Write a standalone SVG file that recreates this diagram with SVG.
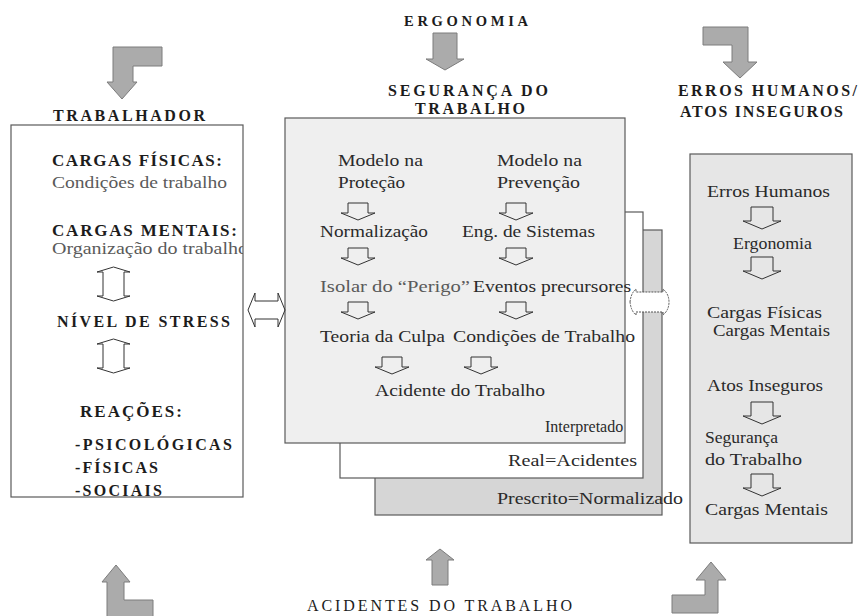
<svg xmlns="http://www.w3.org/2000/svg" width="862" height="616" viewBox="0 0 862 616">
<style>
.h{font-family:"Liberation Serif","Times New Roman",serif;font-weight:bold;fill:#1c1c1c}
.hl{font-family:"Liberation Serif","Times New Roman",serif;fill:#1c1c1c}
.t{font-family:"Liberation Serif","Times New Roman",serif;font-size:16px;fill:#2a2a2a}
.lt{fill:#5a5a5a}
.box{stroke:#5a5a5a;stroke-width:1.2}
.big{fill:#ababab;stroke:#7c7c7c;stroke-width:1}
.hol{fill:none;stroke:#333;stroke-width:1}
.dbl{fill:#fff;stroke:#555;stroke-width:1;stroke-dasharray:2 1}
</style>
<defs>
<path id="darr" d="M-10,0 H10 V10 H17 L0,17 L-17,10 H-10 Z"/>
<path id="darr2" d="M-11,0 H11 V14 H19 L0,22 L-19,14 H-11 Z"/>
<path id="udarr" d="M0,0 L16.5,5 H10.5 V29 H16.5 L0,34 L-16.5,29 H-10.5 V5 H-16.5 Z"/>
<clipPath id="clipL"><rect x="11" y="125" width="232" height="372"/></clipPath>
</defs>

<g id="ergonomia">
<text class="h" font-size="14.5" x="404" y="26" textLength="124" lengthAdjust="spacing">ERGONOMIA</text>
</g>

<g id="trabalhador">
<text class="h" font-size="16" x="53" y="121" textLength="152" lengthAdjust="spacing">TRABALHADOR</text>
<rect class="box" x="11" y="125" width="232" height="372" fill="#fff"/>
<g clip-path="url(#clipL)">
<text class="h" font-size="17" x="52" y="166" textLength="170" lengthAdjust="spacing">CARGAS FÍSICAS:</text>
<text class="t lt" x="52" y="188" textLength="175" lengthAdjust="spacingAndGlyphs">Condições de trabalho</text>
<text class="h" font-size="17" x="52" y="236" textLength="185" lengthAdjust="spacing">CARGAS MENTAIS:</text>
<text class="t lt" x="52" y="254" textLength="196" lengthAdjust="spacingAndGlyphs">Organização do trabalho</text>
<use href="#udarr" x="113.5" y="267" class="hol"/>
<text class="h" font-size="16" x="57" y="327" textLength="173" lengthAdjust="spacing">NÍVEL DE STRESS</text>
<use href="#udarr" x="113.5" y="339" class="hol"/>
<text class="h" font-size="17" x="80" y="417" textLength="102" lengthAdjust="spacing">REAÇÕES:</text>
<text class="h" font-size="16" x="75" y="450" textLength="157" lengthAdjust="spacing">-PSICOLÓGICAS</text>
<text class="h" font-size="16" x="75" y="473" textLength="83" lengthAdjust="spacing">-FÍSICAS</text>
<text class="h" font-size="16" x="75" y="496" textLength="87" lengthAdjust="spacing">-SOCIAIS</text>
</g>
</g>

<g id="seguranca">
<text class="h" font-size="16" x="388" y="96" textLength="160" lengthAdjust="spacing">SEGURANÇA DO</text>
<text class="h" font-size="16" x="415" y="114" textLength="110" lengthAdjust="spacing">TRABALHO</text>
<rect class="box" x="375" y="230" width="287" height="285" fill="#d6d6d6"/>
<rect class="box" x="340" y="212" width="303" height="266" fill="#fff"/>
<rect class="box" x="285" y="118" width="340" height="325" fill="#efefef"/>
<text class="t" x="338" y="166" textLength="85" lengthAdjust="spacingAndGlyphs">Modelo na</text>
<text class="t" x="338" y="188" textLength="67" lengthAdjust="spacingAndGlyphs">Proteção</text>
<text class="t" x="497" y="166" textLength="85" lengthAdjust="spacingAndGlyphs">Modelo na</text>
<text class="t" x="497" y="188" textLength="83" lengthAdjust="spacingAndGlyphs">Prevenção</text>
<text class="t" x="320" y="237" textLength="108" lengthAdjust="spacingAndGlyphs">Normalização</text>
<text class="t" x="462" y="237" textLength="133" lengthAdjust="spacingAndGlyphs">Eng. de Sistemas</text>
<text class="t lt" x="320" y="292" textLength="150" lengthAdjust="spacingAndGlyphs">Isolar do “Perigo”</text>
<text class="t" x="473" y="292" textLength="158" lengthAdjust="spacingAndGlyphs">Eventos precursores</text>
<text class="t" x="320" y="342" textLength="125" lengthAdjust="spacingAndGlyphs">Teoria da Culpa</text>
<text class="t" x="453" y="342" textLength="182" lengthAdjust="spacingAndGlyphs">Condições de Trabalho</text>
<text class="t" x="375" y="396" textLength="170" lengthAdjust="spacingAndGlyphs">Acidente do Trabalho</text>
<text class="t" x="545" y="432">Interpretado</text>
<text class="t" x="508" y="466" textLength="129" lengthAdjust="spacingAndGlyphs">Real=Acidentes</text>
<text class="t" x="497" y="504" textLength="186" lengthAdjust="spacingAndGlyphs">Prescrito=Normalizado</text>
<use href="#darr" x="358" y="203" class="hol"/>
<use href="#darr" x="516" y="203" class="hol"/>
<use href="#darr" x="358" y="248" class="hol"/>
<use href="#darr" x="516" y="248" class="hol"/>
<use href="#darr" x="358" y="302" class="hol"/>
<use href="#darr" x="516" y="302" class="hol"/>
<use href="#darr" x="392" y="357" class="hol"/>
<use href="#darr" x="481" y="357" class="hol"/>
</g>

<g id="erros">
<text class="h" font-size="16" x="678" y="96" textLength="179" lengthAdjust="spacing">ERROS HUMANOS/</text>
<text class="h" font-size="16" x="680" y="117" textLength="163" lengthAdjust="spacing">ATOS INSEGUROS</text>
<rect class="box" x="690" y="154" width="162" height="389" fill="#e6e6e6" stroke="#444"/>
<text class="t" x="707" y="197" textLength="123" lengthAdjust="spacingAndGlyphs">Erros Humanos</text>
<text class="t" x="733" y="249" textLength="79" lengthAdjust="spacingAndGlyphs">Ergonomia</text>
<text class="t" x="707" y="318" textLength="115" lengthAdjust="spacingAndGlyphs">Cargas Físicas</text>
<text class="t" x="713" y="336" textLength="117" lengthAdjust="spacingAndGlyphs">Cargas Mentais</text>
<text class="t" x="707" y="391" textLength="116" lengthAdjust="spacingAndGlyphs">Atos Inseguros</text>
<text class="t" x="705" y="443" textLength="73" lengthAdjust="spacingAndGlyphs">Segurança</text>
<text class="t" x="705" y="465" textLength="97" lengthAdjust="spacingAndGlyphs">do Trabalho</text>
<text class="t" x="705" y="515" textLength="123" lengthAdjust="spacingAndGlyphs">Cargas Mentais</text>
<use href="#darr2" x="762" y="207" class="hol"/>
<use href="#darr2" x="762" y="257" class="hol"/>
<use href="#darr2" x="762" y="402" class="hol"/>
<use href="#darr2" x="762" y="474" class="hol"/>
</g>

<g id="acidentes">
<text class="hl" font-size="16" x="307" y="611" textLength="265" lengthAdjust="spacing">ACIDENTES DO TRABALHO</text>
</g>

<g id="connectors">
<path class="big" d="M113,47 H162 V66 H133 V82 H137 L122,99 L107,82 H113 Z"/>
<path class="big" d="M433,33 H457 V59 H464 L445,70 L426,59 H433 Z"/>
<path class="big" d="M703,27 H748 V62 H757 L740,78 L723,62 H732 V45 H703 Z"/>
<path class="big" d="M116,565 L130,582 H124 V600 H153 V620 H107 V582 H102 Z"/>
<path class="big" d="M440,549 L454,560 H448 V585 H432 V560 H426 Z"/>
<path class="big" d="M711,562 L726,580 H718 V613 H672 V595 H705 V580 H696 Z"/>
<path class="hol" d="M248,310 L255,293 V301 H278 V293 L285,310 L278,327 V319 H255 V327 Z" fill="#fff"/>
<path class="dbl" d="M630,302 Q631,293 636,289 V292 H663 V289 Q669,294 669,302 Q669,310 663,315 V312 H636 V315 Q631,311 630,302 Z"/>
</g>
</svg>
